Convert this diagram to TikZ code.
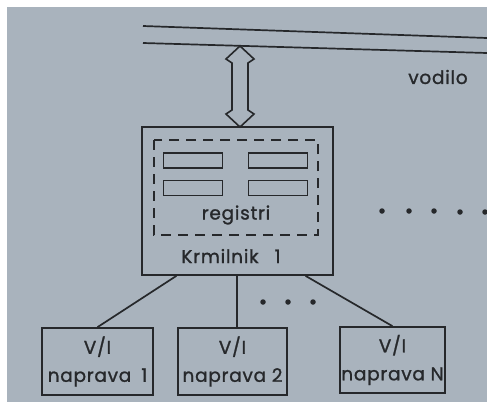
\documentclass[tikz,border=0pt]{standalone}
\usepackage{fontspec}
\setmainfont{Poppins}[FakeBold=1.2, LetterSpace=4]
\usetikzlibrary{calc}
\definecolor{bg}{HTML}{A9B3BD}
\definecolor{ink}{HTML}{26282B}
\tikzset{
  ln/.style={draw=ink, line width=1.7pt},
  box/.style={ln, rectangle, inner sep=0pt, align=center, text=ink},
  reg/.style={ln, line width=1.5pt, rectangle, minimum width=59pt, minimum height=15pt, inner sep=0pt},
  lbl/.style={text=ink, inner sep=0pt, font=\fontsize{18.5}{28}\selectfont},
  dot/.style={circle, fill=ink, inner sep=0pt, minimum size=5.5pt}
}
\begin{document}
\begin{tikzpicture}[x=1pt,y=-1pt]
\useasboundingbox (0,0) rectangle (487,408);
\fill[white] (0,0) rectangle (487,408);
\fill[bg] (7,7) rectangle (487,402);
% bus
\coordinate (b1l) at (143,26);
\coordinate (b1r) at (487,38);
\coordinate (b2l) at (143,43);
\coordinate (b2r) at (487,53);
\draw[ln] (b1l) -- (b1r);
\draw[ln] (b2l) -- (b2r);
\node[lbl] (vodilo) at (438,77) {vodilo};
% controller
\node[box, minimum width=191pt, minimum height=148pt] (ctrl) at (237.5,201) {};
\draw[ln, line width=1.6pt, dash pattern=on 10pt off 7pt] (154,140) rectangle (318,235);
\node[reg] (r1) at (193,160.5) {};
\node[reg] (r2) at (193,188) {};
\node[reg] (r3) at (278,160.5) {};
\node[reg] (r4) at (278,188) {};
\node[lbl] (registri) at (236,215) {registri};
\node[lbl] (krm) at (231,256) {Krmilnik\hspace*{16pt}1};
% double arrow
\coordinate (atop) at (240,46);
\coordinate (abot) at (240,127);
\draw[ln, line width=1.6pt, line join=miter] (atop) -- (254,59) -- (248,63) -- (248,110) -- (254,114) -- (abot)
  -- (226,114) -- (232,110) -- (232,63) -- (226,59) -- cycle;
% devices
\node[box, minimum width=111pt, minimum height=67pt, font=\fontsize{18.5}{28}\selectfont] (d1) at (97.5,361.5) {V/I\\naprava\hspace*{10pt}1};
\node[box, minimum width=109pt, minimum height=67pt, font=\fontsize{18.5}{28}\selectfont] (d2) at (232.5,361.5) {V/I\\naprava 2};
\node[box, minimum width=105pt, minimum height=66pt, font=\fontsize{18.5}{28}\selectfont] (dn) at (392.5,360) {V/I\\naprava N};
\draw[ln] ($(ctrl.south west)!0.183!(ctrl.south east)$) -- (d1.north);
\draw[ln] (ctrl.south -| 237,0) -- (d2.north -| 237,0);
\draw[ln] ($(ctrl.south west)!0.853!(ctrl.south east)$) -- (dn.north);
% dots
\node[dot] (m1) at (263,302) {};
\node[dot] (m2) at (288,302) {};
\node[dot] (m3) at (313,302) {};
\node[dot] (e1) at (382,211) {};
\node[dot] (e2) at (409,211) {};
\node[dot] (e3) at (434,211) {};
\node[dot] (e4) at (460,212) {};
\node[dot] (e5) at (485,212) {};
\end{tikzpicture}
\end{document}
